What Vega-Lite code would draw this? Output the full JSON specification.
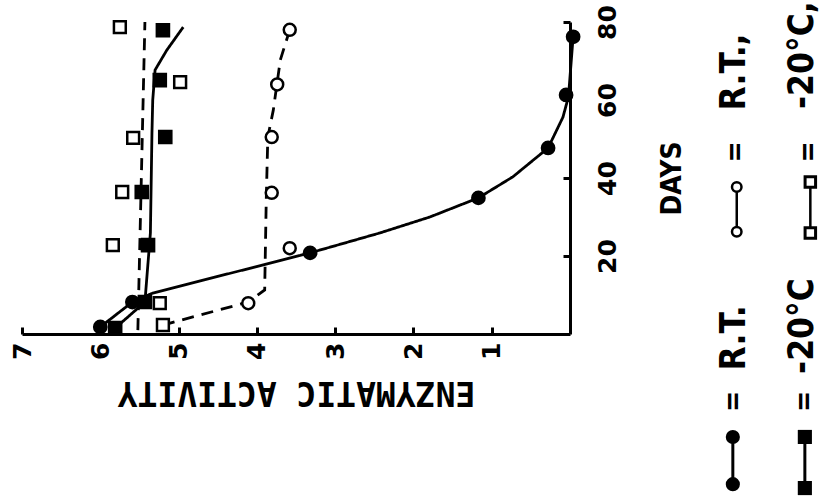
{
  "$schema": "https://vega.github.io/schema/vega-lite/v6.json",
  "autosize": "none",
  "padding": {"left": 22, "top": 22, "right": 258, "bottom": 167},
  "width": 548,
  "height": 312,
  "background": "white",
  "config": {"view": {"stroke": null}, "font": "DejaVu Sans", "axis": {"grid": false}},
  "data": {"values": [{}]},
  "datasets": {
    "curves": [
      {"series": "R.T. filled", "i": 1, "day": 1.8, "activity": 6.0},
      {"series": "R.T. filled", "i": 2, "day": 8.2, "activity": 5.59},
      {"series": "R.T. filled", "i": 3, "day": 10.5, "activity": 5.33},
      {"series": "R.T. filled", "i": 4, "day": 20.8, "activity": 3.32},
      {"series": "R.T. filled", "i": 5, "day": 25.9, "activity": 2.43},
      {"series": "R.T. filled", "i": 6, "day": 30, "activity": 1.79},
      {"series": "R.T. filled", "i": 7, "day": 34.9, "activity": 1.17},
      {"series": "R.T. filled", "i": 8, "day": 40.3, "activity": 0.73},
      {"series": "R.T. filled", "i": 9, "day": 47.7, "activity": 0.28},
      {"series": "R.T. filled", "i": 10, "day": 55.6, "activity": 0.09},
      {"series": "R.T. filled", "i": 11, "day": 60.8, "activity": 0.02},
      {"series": "R.T. filled", "i": 12, "day": 76.2, "activity": -0.04},
      {"series": "-20°C filled", "i": 1, "day": 1.5, "activity": 5.81},
      {"series": "-20°C filled", "i": 2, "day": 8.2, "activity": 5.43},
      {"series": "-20°C filled", "i": 3, "day": 25.9, "activity": 5.36},
      {"series": "-20°C filled", "i": 4, "day": 51.5, "activity": 5.34},
      {"series": "-20°C filled", "i": 5, "day": 60, "activity": 5.33},
      {"series": "-20°C filled", "i": 6, "day": 67.7, "activity": 5.3},
      {"series": "-20°C filled", "i": 7, "day": 72.8, "activity": 5.15},
      {"series": "-20°C filled", "i": 8, "day": 78.7, "activity": 4.94},
      {"series": "R.T. open", "i": 1, "day": 2.3, "activity": 5.2},
      {"series": "R.T. open", "i": 2, "day": 8.2, "activity": 4.11},
      {"series": "R.T. open", "i": 3, "day": 11.3, "activity": 3.9},
      {"series": "R.T. open", "i": 4, "day": 34.4, "activity": 3.88},
      {"series": "R.T. open", "i": 5, "day": 50.5, "activity": 3.86},
      {"series": "R.T. open", "i": 6, "day": 57.4, "activity": 3.79},
      {"series": "R.T. open", "i": 7, "day": 70.3, "activity": 3.7},
      {"series": "R.T. open", "i": 8, "day": 78, "activity": 3.58},
      {"series": "-20°C open", "i": 1, "day": 1, "activity": 5.52},
      {"series": "-20°C open", "i": 2, "day": 80, "activity": 5.43}
    ],
    "points": [
      {"series": "R.T. filled", "day": 1.8, "activity": 6.0},
      {"series": "R.T. filled", "day": 8.2, "activity": 5.59},
      {"series": "R.T. filled", "day": 20.8, "activity": 3.32},
      {"series": "R.T. filled", "day": 34.9, "activity": 1.17},
      {"series": "R.T. filled", "day": 47.7, "activity": 0.28},
      {"series": "R.T. filled", "day": 61.3, "activity": 0.05},
      {"series": "R.T. filled", "day": 76.2, "activity": -0.04},
      {"series": "-20°C filled", "day": 1.5, "activity": 5.81},
      {"series": "-20°C filled", "day": 8.2, "activity": 5.43},
      {"series": "-20°C filled", "day": 22.8, "activity": 5.39},
      {"series": "-20°C filled", "day": 36.4, "activity": 5.47},
      {"series": "-20°C filled", "day": 50.5, "activity": 5.17},
      {"series": "-20°C filled", "day": 65.1, "activity": 5.24},
      {"series": "-20°C filled", "day": 77.9, "activity": 5.2},
      {"series": "R.T. open", "day": 7.9, "activity": 4.11},
      {"series": "R.T. open", "day": 22, "activity": 3.58},
      {"series": "R.T. open", "day": 36.2, "activity": 3.81},
      {"series": "R.T. open", "day": 50.5, "activity": 3.81},
      {"series": "R.T. open", "day": 64.0, "activity": 3.74},
      {"series": "R.T. open", "day": 78, "activity": 3.58},
      {"series": "-20°C open", "day": 2.3, "activity": 5.2},
      {"series": "-20°C open", "day": 7.9, "activity": 5.24},
      {"series": "-20°C open", "day": 22.8, "activity": 5.84},
      {"series": "-20°C open", "day": 36.4, "activity": 5.72},
      {"series": "-20°C open", "day": 50.3, "activity": 5.58},
      {"series": "-20°C open", "day": 64.6, "activity": 4.98},
      {"series": "-20°C open", "day": 78.7, "activity": 5.75}
    ]
  },
  "layer": [
    {
      "data": {"name": "curves"},
      "mark": {"type": "line", "color": "black", "strokeWidth": 2.8, "clip": false},
      "encoding": {
        "x": {
          "field": "activity", "type": "quantitative",
          "scale": {"domain": [0, 7], "reverse": true, "nice": false, "zero": false},
          "axis": {
            "orient": "bottom", "title": "ENZYMATIC ACTIVITY",
            "titleFont": "DejaVu Sans Mono", "titleFontSize": 33, "titleFontWeight": "bold",
            "titleAngle": 180, "titleBaseline": "bottom", "titlePadding": 15, "titleColor": "black",
            "values": [1, 2, 3, 4, 5, 6, 7], "format": "d",
            "labelAngle": 270, "labelAlign": "right", "labelBaseline": "middle",
            "labelFontSize": 25, "labelFontWeight": "bold", "labelColor": "black",
            "labelPadding": 15, "labelFlush": false, "labelOverlap": false,
            "tickSize": -7, "tickWidth": 3, "tickColor": "black",
            "domainWidth": 3, "domainColor": "black"
          }
        },
        "y": {
          "field": "day", "type": "quantitative",
          "scale": {"domain": [0, 80], "nice": false, "zero": false},
          "axis": {
            "orient": "right", "title": "DAYS",
            "titleFont": "DejaVu Sans Condensed", "titleFontSize": 28, "titleFontWeight": "bold", "titleColor": "black",
            "titleAngle": 270, "titleBaseline": "top", "titlePadding": 38,
            "values": [20, 40, 60, 80], "format": "d",
            "labelAngle": 270, "labelAlign": "center", "labelBaseline": "top",
            "labelFontSize": 25, "labelFontWeight": "bold", "labelColor": "black",
            "labelPadding": 32, "labelFlush": false, "labelOverlap": false,
            "tickSize": -7, "tickWidth": 3, "tickColor": "black",
            "domainWidth": 3, "domainColor": "black"
          }
        },
        "detail": {"field": "series"},
        "order": {"field": "i"},
        "strokeDash": {
          "field": "series",
          "scale": {"domain": ["R.T. filled", "-20°C filled", "R.T. open", "-20°C open"], "range": [[1, 0], [1, 0], [12, 8], [12, 8]]},
          "legend": null
        }
      }
    },
    {
      "data": {"name": "points"},
      "mark": {"type": "point", "filled": false, "stroke": "black", "strokeWidth": 2.5, "opacity": 1},
      "encoding": {
        "x": {"field": "activity", "type": "quantitative"},
        "y": {"field": "day", "type": "quantitative"},
        "shape": {"field": "series", "scale": {"domain": ["R.T. filled", "-20°C filled", "R.T. open", "-20°C open"], "range": ["circle", "square", "circle", "square"]}, "legend": null},
        "fill": {"field": "series", "scale": {"domain": ["R.T. filled", "-20°C filled", "R.T. open", "-20°C open"], "range": ["black", "black", "white", "white"]}, "legend": null},
        "size": {"field": "series", "scale": {"domain": ["R.T. filled", "-20°C filled", "R.T. open", "-20°C open"], "range": [150, 140, 90, 130]}, "legend": null}
      }
    },
    {"mark": {"type": "rule", "strokeWidth": 3, "color": "black"}, "encoding": {"x": {"datum": -2.08}, "y": {"datum": -26.4}, "y2": {"datum": -38.5}}},
    {"mark": {"type": "point", "shape": "circle", "filled": true, "color": "black", "size": 200, "opacity": 1}, "encoding": {"x": {"datum": -2.08}, "y": {"datum": -26.4}}},
    {"mark": {"type": "point", "shape": "circle", "filled": true, "color": "black", "size": 200, "opacity": 1}, "encoding": {"x": {"datum": -2.08}, "y": {"datum": -38.5}}},
    {"mark": {"type": "rule", "strokeWidth": 3, "color": "black"}, "encoding": {"x": {"datum": -3.0}, "y": {"datum": -26.4}, "y2": {"datum": -39.5}}},
    {"mark": {"type": "point", "shape": "square", "filled": true, "color": "black", "size": 200, "opacity": 1}, "encoding": {"x": {"datum": -3.0}, "y": {"datum": -26.4}}},
    {"mark": {"type": "point", "shape": "square", "filled": true, "color": "black", "size": 200, "opacity": 1}, "encoding": {"x": {"datum": -3.0}, "y": {"datum": -39.5}}},
    {"mark": {"type": "rule", "strokeWidth": 2.5, "color": "black"}, "encoding": {"x": {"datum": -2.13}, "y": {"datum": 26.2}, "y2": {"datum": 37.7}}},
    {"mark": {"type": "point", "shape": "circle", "fill": "white", "stroke": "black", "strokeWidth": 2.5, "size": 90, "opacity": 1}, "encoding": {"x": {"datum": -2.13}, "y": {"datum": 26.2}}},
    {"mark": {"type": "point", "shape": "circle", "fill": "white", "stroke": "black", "strokeWidth": 2.5, "size": 90, "opacity": 1}, "encoding": {"x": {"datum": -2.13}, "y": {"datum": 37.7}}},
    {"mark": {"type": "rule", "strokeWidth": 2.5, "color": "black"}, "encoding": {"x": {"datum": -3.07}, "y": {"datum": 25.9}, "y2": {"datum": 39}}},
    {"mark": {"type": "point", "shape": "square", "fill": "white", "stroke": "black", "strokeWidth": 3, "size": 110, "opacity": 1}, "encoding": {"x": {"datum": -3.07}, "y": {"datum": 25.9}}},
    {"mark": {"type": "point", "shape": "square", "fill": "white", "stroke": "black", "strokeWidth": 3, "size": 110, "opacity": 1}, "encoding": {"x": {"datum": -3.07}, "y": {"datum": 39}}},
    {"mark": {"type": "text", "angle": 270, "font": "DejaVu Sans Condensed", "fontSize": 35, "fontWeight": "bold", "align": "center", "baseline": "middle", "color": "black"}, "encoding": {"x": {"datum": -2.09}, "y": {"datum": -1.0}, "text": {"value": "R.T."}}},
    {"mark": {"type": "text", "angle": 270, "font": "DejaVu Sans Condensed", "fontSize": 28, "fontWeight": "bold", "align": "center", "baseline": "middle", "color": "black"}, "encoding": {"x": {"datum": -2.09}, "y": {"datum": -17.3}, "text": {"value": "="}}},
    {"mark": {"type": "text", "angle": 270, "font": "DejaVu Sans Condensed", "fontSize": 28, "fontWeight": "bold", "align": "center", "baseline": "middle", "color": "black"}, "encoding": {"x": {"datum": -2.12}, "y": {"datum": 46.7}, "text": {"value": "="}}},
    {"mark": {"type": "text", "angle": 270, "font": "DejaVu Sans Condensed", "fontSize": 35, "fontWeight": "bold", "align": "center", "baseline": "middle", "color": "black"}, "encoding": {"x": {"datum": -2.09}, "y": {"datum": 67.2}, "text": {"value": "R.T.,"}}},
    {"mark": {"type": "text", "angle": 270, "font": "DejaVu Sans Condensed", "fontSize": 35, "fontWeight": "bold", "align": "center", "baseline": "middle", "color": "black"}, "encoding": {"x": {"datum": -2.96}, "y": {"datum": 2.05}, "text": {"value": "-20°C"}}},
    {"mark": {"type": "text", "angle": 270, "font": "DejaVu Sans Condensed", "fontSize": 28, "fontWeight": "bold", "align": "center", "baseline": "middle", "color": "black"}, "encoding": {"x": {"datum": -3.0}, "y": {"datum": -17.3}, "text": {"value": "="}}},
    {"mark": {"type": "text", "angle": 270, "font": "DejaVu Sans Condensed", "fontSize": 28, "fontWeight": "bold", "align": "center", "baseline": "middle", "color": "black"}, "encoding": {"x": {"datum": -3.05}, "y": {"datum": 46.7}, "text": {"value": "="}}},
    {"mark": {"type": "text", "angle": 270, "font": "DejaVu Sans Condensed", "fontSize": 35, "fontWeight": "bold", "align": "center", "baseline": "middle", "color": "black"}, "encoding": {"x": {"datum": -2.96}, "y": {"datum": 71.5}, "text": {"value": "-20°C,"}}}
  ]
}
